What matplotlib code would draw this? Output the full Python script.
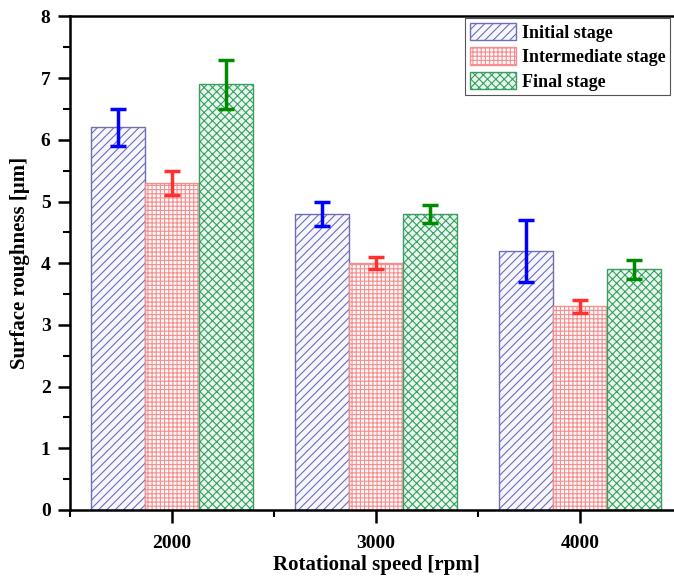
import numpy as np
import matplotlib
matplotlib.use("Agg")
import matplotlib.pyplot as plt
from matplotlib.ticker import MultipleLocator

# datos
speeds = [2000, 3000, 4000]
stages = ["Initial stage", "Intermediate stage", "Final stage"]
initial = [6.2, 4.8, 4.2]
initial_err = [0.3, 0.2, 0.5]
intermediate = [5.3, 4.0, 3.3]
intermediate_err = [0.2, 0.1, 0.1]
final = [6.9, 4.8, 3.9]
final_err = [0.4, 0.15, 0.15]

plt.rcParams["font.family"] = ["Liberation Serif", "DejaVu Serif"]
plt.rcParams["font.weight"] = "bold"
plt.rcParams["hatch.linewidth"] = 0.8

fig = plt.figure(figsize=(6.74, 5.82), dpi=100)
ax = fig.add_axes([70 / 674, 72 / 582, 612 / 674, 493.6 / 582])

x = np.array(speeds)
w = 265
series = [
    (initial, initial_err, -w, "////", "#6e6eb8", "#f7f7ff", "#0000ff"),
    (intermediate, intermediate_err, 0, "++++", "#f29090", "#fff8f8", "#ff3030"),
    (final, final_err, w, "xxxx", "#3a9e62", "#e8f8ee", "#008a00"),
]
#barras con su rayado y barras de error
for (vals, errs, off, hatch, ec, fc, errc), name in zip(series, stages):
    ax.bar(x + off, vals, width=w, facecolor=fc, edgecolor=ec, hatch=hatch,
           linewidth=1.0, label=name)
    ax.errorbar(x + off, vals, yerr=errs, fmt="none", ecolor=errc,
                elinewidth=2.5, capsize=6, capthick=2.5)

ax.set_xlim(1500, 4500)
ax.set_ylim(0, 8)
ax.set_xticks(speeds)
ax.xaxis.set_minor_locator(MultipleLocator(500))
ax.yaxis.set_major_locator(MultipleLocator(1))
ax.yaxis.set_minor_locator(MultipleLocator(0.5))
ax.tick_params(which="major", direction="out", length=9, width=1.8, labelsize=14, pad=5)
ax.tick_params(which="minor", direction="out", length=5, width=1.5)
ax.tick_params(axis="x", which="major", pad=9)
ax.tick_params(top=False, right=False, which="both")
for side in ["left", "bottom", "top"]:
    ax.spines[side].set_linewidth(1.8)
ax.spines["right"].set_visible(False)

ax.set_xlabel("Rotational speed [rpm]", fontsize=15, fontweight="bold", labelpad=2)
ax.set_ylabel("Surface roughness [μm]", fontsize=15, fontweight="bold", labelpad=8)

leg = ax.legend(loc="upper left", bbox_to_anchor=(465 / 674, 1 - 18 / 582),
                bbox_transform=fig.transFigure, borderaxespad=0, borderpad=0.25,
                handlelength=2.6, handleheight=1.15, labelspacing=0.3,
                handletextpad=0.3, fancybox=False, framealpha=1,
                prop={"size": 13, "weight": "bold"})
leg.get_frame().set_edgecolor("#555555")
leg.get_frame().set_linewidth(0.8)

fig.savefig("out.png", dpi=100)
